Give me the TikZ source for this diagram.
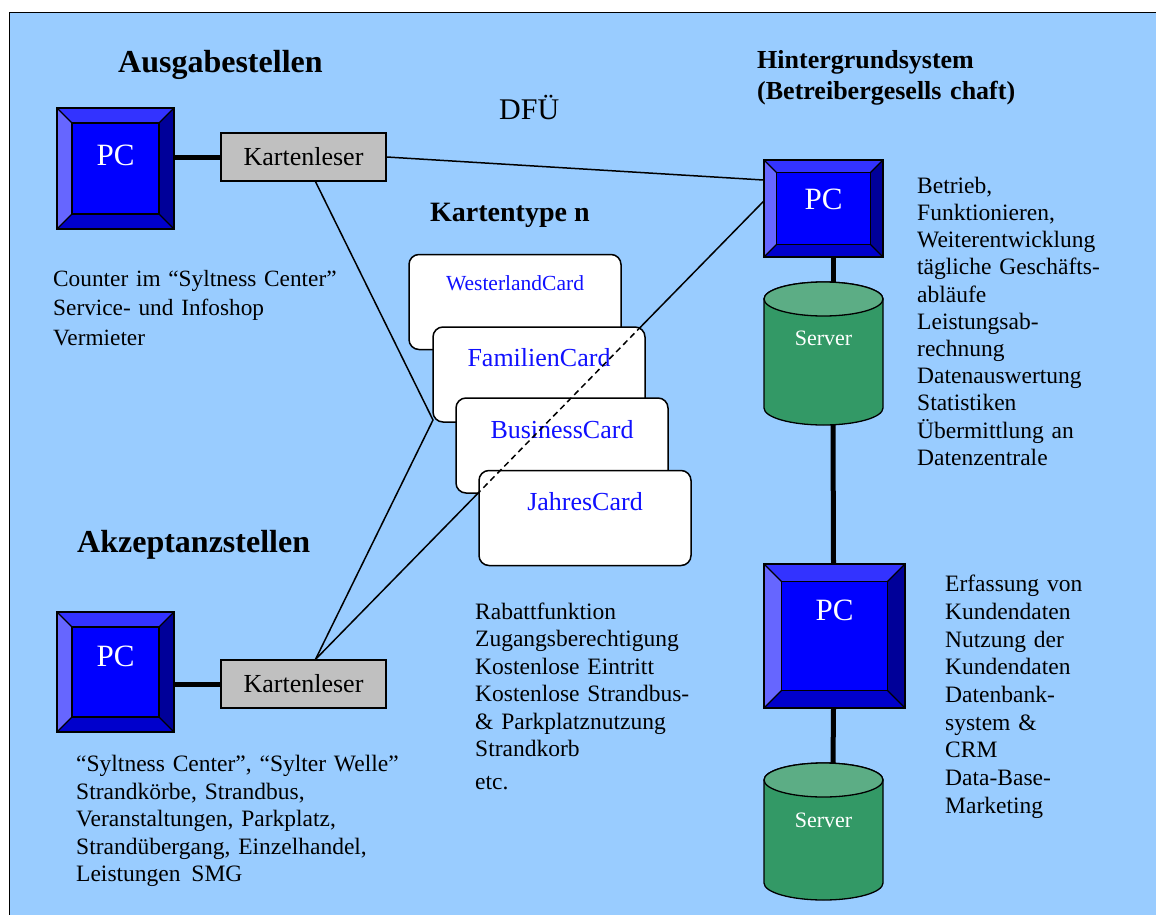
\documentclass[tikz,border=0pt]{standalone}
\usepackage{fontspec}
\setmainfont{Liberation Serif}
\usetikzlibrary{calc}

\definecolor{bgblue}{HTML}{99CCFF}
\definecolor{pcface}{HTML}{0000FF}
\definecolor{bevtop}{HTML}{3333FF}
\definecolor{bevleft}{HTML}{6666FF}
\definecolor{bevright}{HTML}{000099}
\definecolor{bevbottom}{HTML}{0000CC}
\definecolor{readergray}{HTML}{C0C0C0}
\definecolor{srvbody}{HTML}{339966}
\definecolor{srvtop}{HTML}{5CAD85}
\definecolor{cardblue}{HTML}{1010FF}

\pgfdeclarelayer{back}
\pgfdeclarelayer{edges}
\pgfdeclarelayer{cyl}
\pgfdeclarelayer{front}
\pgfsetlayers{back,edges,cyl,main,front}

% database cylinder drawn around a (shapeless) named node
\newcommand\servercyl[1]{%
  \begin{pgfonlayer}{cyl}
    \path[draw=black, line width=1.3pt, fill=srvbody]
      ([yshift=-17pt]#1.north west) -- ([yshift=17pt]#1.south west)
      arc[start angle=180, end angle=360, x radius=59.5pt, y radius=17pt]
      -- ([yshift=-17pt]#1.north east)
      arc[start angle=0, end angle=180, x radius=59.5pt, y radius=17pt] -- cycle;
    \path[draw=black, line width=1.3pt, fill=srvtop]
      ([yshift=-17pt]#1.north) ellipse [x radius=59.5pt, y radius=17pt];
  \end{pgfonlayer}}

\begin{document}
\begin{tikzpicture}[x=1pt, y=-1pt,
  bevel/.code={\def\pcbevw{#1}},
  bevel=15,
  pcbox/.style={draw=black, line width=1.3pt, fill=pcface, text=white,
    font=\fontsize{31}{31}\selectfont, text height=20.5pt, inner sep=0pt,
    path picture={
      \def\pb{path picture bounding box}
      \fill[bevtop] (\pb.north west) -- (\pb.north east)
        -- ([shift={(-\pcbevw pt,-\pcbevw pt)}]\pb.north east)
        -- ([shift={(\pcbevw pt,-\pcbevw pt)}]\pb.north west) -- cycle;
      \fill[bevright] (\pb.north east) -- (\pb.south east)
        -- ([shift={(-\pcbevw pt,\pcbevw pt)}]\pb.south east)
        -- ([shift={(-\pcbevw pt,-\pcbevw pt)}]\pb.north east) -- cycle;
      \fill[bevbottom] (\pb.south east) -- (\pb.south west)
        -- ([shift={(\pcbevw pt,\pcbevw pt)}]\pb.south west)
        -- ([shift={(-\pcbevw pt,\pcbevw pt)}]\pb.south east) -- cycle;
      \fill[bevleft] (\pb.south west) -- (\pb.north west)
        -- ([shift={(\pcbevw pt,-\pcbevw pt)}]\pb.north west)
        -- ([shift={(\pcbevw pt,\pcbevw pt)}]\pb.south west) -- cycle;
      \draw[line width=1.3pt]
        ([shift={(\pcbevw pt,\pcbevw pt)}]\pb.south west) rectangle
        ([shift={(-\pcbevw pt,-\pcbevw pt)}]\pb.north east);
      \draw[line width=1.3pt]
        (\pb.south west) -- ([shift={(\pcbevw pt,\pcbevw pt)}]\pb.south west)
        (\pb.north west) -- ([shift={(\pcbevw pt,-\pcbevw pt)}]\pb.north west)
        (\pb.north east) -- ([shift={(-\pcbevw pt,-\pcbevw pt)}]\pb.north east)
        (\pb.south east) -- ([shift={(-\pcbevw pt,\pcbevw pt)}]\pb.south east);
    }},
  reader/.style={draw=black, line width=1.3pt, fill=readergray,
    minimum width=165pt, minimum height=48pt, inner sep=0pt,
    font=\fontsize{26}{26}\selectfont},
  card/.style={draw=black, line width=1.5pt, fill=white, rounded corners=10pt,
    minimum width=212pt, minimum height=95pt, inner sep=0pt, text=cardblue,
    font=\fontsize{26}{26}\selectfont, text height=17pt, text depth=32pt},
  srvnode/.style={minimum width=119pt, inner sep=0pt, outer sep=0pt,
    text=white, font=\fontsize{22}{22}\selectfont, text height=14.6pt},
  thickline/.style={line width=5pt, line cap=round},
  thinline/.style={line width=1.5pt},
  block/.style={anchor=base west, inner sep=0pt, text width=400pt, align=left},
  title/.style={anchor=base west, inner sep=0pt, font=\fontsize{32}{32}\selectfont\bfseries},
]
\useasboundingbox (0,0) rectangle (1156,915);

% panel
\begin{pgfonlayer}{back}
  \fill[bgblue] (9,12) rectangle (1156,915);
  \draw[line width=1.5pt] (9.5,915) -- (9.5,12.5) -- (1156,12.5);
\end{pgfonlayer}

% headings
\node[title] (tAus) at (118,73) {Ausgabestellen};
\node[title] (tAkz) at (77,552) {Akzeptanzstellen};
\node[block, font=\fontsize{26}{31}\selectfont\bfseries] (tHin) at (757,69)
  {Hintergrundsystem\\(Betreibergesells chaft)};
\node[anchor=base west, inner sep=0pt, font=\fontsize{30}{30}\selectfont] (tDfu) at (499,120) {DFÜ};
\node[anchor=base west, inner sep=0pt, font=\fontsize{28}{28}\selectfont\bfseries] (tKt) at (430,221) {Kartentype n};

% issuing points
\node[pcbox, bevel=15, minimum width=117pt, minimum height=121pt, text depth=27pt] (pcA) at (115.5,168.5) {PC};
\node[reader] (klA) at (303.5,157) {Kartenleser};

% acceptance points
\node[pcbox, bevel=15, minimum width=117pt, minimum height=120pt, text depth=32pt] (pcB) at (115.5,672) {PC};
\node[reader] (klB) at (303.5,684) {Kartenleser};

% back-end system
\node[pcbox, bevel=12.5, minimum width=119pt, minimum height=97pt, text depth=19pt] (pcC) at (823.5,208.5) {PC};
\node[srvnode, minimum height=143pt, text depth=31pt] (srvC) at (823.5,353.5) {Server};
\servercyl{srvC}
\node[pcbox, bevel=17.5, minimum width=141pt, minimum height=144pt, text depth=52pt] (pcD) at (834.5,636) {PC};
\node[srvnode, minimum height=137pt, text depth=23pt] (srvD) at (823.5,831.5) {Server};
\servercyl{srvD}

% card types
\node[card, font=\fontsize{21.5}{21.5}\selectfont, text height=14pt, text depth=38pt] (cW) at (515,302) {WesterlandCard};
\node[card, text depth=33pt] (cF) at (539,374.5) {FamilienCard};
\node[card, text depth=31pt] (cB) at (562,445.5) {BusinessCard};
\node[card] (cJ) at (585,518) {JahresCard};

% descriptions
\node[block, font=\fontsize{23.3}{28.3}\selectfont] (dAus) at (53,286.7)
  {Counter im “Syltness Center”\\Service- und Infoshop\\[2.4pt]Vermieter};
\node[block, font=\fontsize{23.5}{27.5}\selectfont] (dAkz) at (76,771.7)
  {“Syltness Center”, “Sylter Welle”\\Strandkörbe, Strandbus,\\Veranstaltungen, Parkplatz,\\Strandübergang, Einzelhandel,\\Leistungen\kern3pt\ SMG};
\node[block, font=\fontsize{23.5}{27.5}\selectfont] (dCard) at (475,619.3)
  {Rabattfunktion\\Zugangsberechtigung\\Kostenlose Eintritt\\Kostenlose Strandbus-\\\& Parkplatznutzung\\Strandkorb\\[5.5pt]etc.};
\node[block, font=\fontsize{23.5}{27.2}\selectfont] (dHin) at (917,193.3)
  {Betrieb,\\Funktionieren,\\Weiterentwicklung\\tägliche Geschäfts-\\abläufe\\Leistungsab-\\rechnung\\Datenauswertung\\Statistiken\\Übermittlung an\\Datenzentrale};
\node[block, font=\fontsize{23.5}{27.7}\selectfont] (dDb) at (945,591.7)
  {Erfassung von\\Kundendaten\\Nutzung der\\Kundendaten\\Datenbank-\\system \&\\CRM\\Data-Base-\\Marketing};

% connections
\coordinate (hub) at (433,420);
\begin{pgfonlayer}{edges}
  \draw[thickline] (klA.west) -- (klA.west -| pcA.east);
  \draw[thickline] (klB.west) -- (klB.west -| pcB.east);
  \draw[thinline] (klA.east) -- ([yshift=28.5pt]pcC.west);
  \draw[thinline] ([xshift=12pt]klA.south) -- (hub) -- ([xshift=12pt]klB.north);
  \draw[thinline] ([xshift=12pt]klB.north) -- ([yshift=7pt]pcC.west);
  \draw[thickline] ([xshift=9.5pt]pcC.south) -- ([xshift=9.5pt]srvC.north);
  \draw[thickline] ([xshift=9.5pt]srvC.south) -- ([xshift=-1pt]pcD.north);
  \draw[thickline] ([xshift=-1pt]pcD.south) -- ([xshift=9.5pt]srvD.north);
\end{pgfonlayer}

% the link seen through the card stack
\begin{pgfonlayer}{front}
  \begin{scope}
    \clip (cW.south west) rectangle (cW.north east)
          (cF.south west) rectangle (cF.north east)
          (cB.south west) rectangle (cB.north east)
          (cJ.south west) rectangle (cJ.north east);
    \draw[thinline, dash pattern=on 6pt off 4pt] ([xshift=12pt]klB.north) -- ([yshift=7pt]pcC.west);
  \end{scope}
\end{pgfonlayer}
\end{tikzpicture}
\end{document}
